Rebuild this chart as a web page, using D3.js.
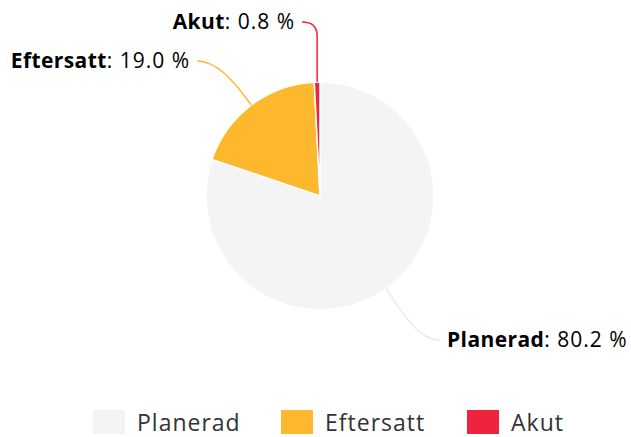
<!DOCTYPE html>
<html>
<head>
<meta charset="utf-8">
<script src="https://cdn.jsdelivr.net/npm/d3@7"></script>
<style>
  body { margin: 0; background: #fff; }
  svg { display: block; font-family: "Open Sans", sans-serif; }
</style>
</head>
<body>
<svg id="chart" width="631" height="437"></svg>
<script>
const categories = ["Planerad", "Eftersatt", "Akut"]
const shares = [80.2, 19.0, 0.8]
const colors = ["#f4f4f4", "#fdb82d", "#ee243d"]
const connector_colors = ["#ebebeb", "#fdb82d", "#ee243d"]

const cx = 320
const cy = 196
const radius = 114

// where each label sits relative to the pie centre (layout only)
const label_layout = [
  {dx: 127, dy: 151, anchor: "start"},
  {dx: -130, dy: -128, anchor: "end"},
  {dx: -25, dy: -167, anchor: "end"}
]

const svg = d3.select("#chart")
const g = svg.append("g").attr("transform", `translate(${cx},${cy})`)

const pie = d3.pie().sort(null).value(d => d)
const arcs = pie(shares)
const arc = d3.arc().innerRadius(0).outerRadius(radius)

g.selectAll("path.slice")
  .data(arcs)
  .enter()
  .append("path")
  .attr("class", "slice")
  .attr("d", arc)
  .attr("fill", (d, i) => colors[i])
  .attr("stroke", "#fff")
  .attr("stroke-width", 1.5)
  .attr("stroke-linejoin", "round")

// connectors + labels
arcs.forEach((d, i) => {
  const a = (d.startAngle + d.endAngle) / 2
  const x0 = radius * Math.sin(a)
  const y0 = -radius * Math.cos(a)
  const lay = label_layout[i]
  const side = lay.anchor == "start" ? 1 : -1
  const tx = lay.dx
  const ty = lay.dy
  const ex = tx - side * 7
  const ey = ty - 7

  const p = d3.path()
  p.moveTo(x0, y0)
  if (i == 2) {
    // thin slice at the top: go straight up then bend
    p.lineTo(x0, ey + 14)
    p.quadraticCurveTo(x0, ey, ex, ey)
  } else if (i == 1) {
    p.bezierCurveTo(x0 - 20, y0 - 28, ex + 18, ey, ex, ey)
  } else {
    p.bezierCurveTo(x0 + 14, y0 + 22, ex - 22, ey, ex, ey)
  }

  g.append("path")
    .attr("d", p.toString())
    .attr("fill", "none")
    .attr("stroke", connector_colors[i])
    .attr("stroke-width", 1.5)

  const t = g.append("text")
    .attr("x", tx)
    .attr("y", ty)
    .attr("text-anchor", lay.anchor)
    .attr("font-size", 21)
    .attr("fill", "#000")
  t.append("tspan").attr("font-weight", "bold").attr("letter-spacing", 0.4).text(categories[i])
  t.append("tspan").attr("letter-spacing", 1).text(": " + shares[i].toFixed(1) + " %")
})

// legend
const legend_x_pos = [93, 281, 467]
const legend = svg.append("g").attr("transform", "translate(0,410)")
categories.forEach((c, i) => {
  const item = legend.append("g").attr("transform", `translate(${legend_x_pos[i]},0)`)
  item.append("rect")
    .attr("width", 32)
    .attr("height", 24)
    .attr("fill", colors[i])
  item.append("text")
    .attr("x", 44)
    .attr("y", 21)
    .attr("font-size", 23)
    .attr("letter-spacing", 1)
    .attr("fill", "#333")
    .text(c)
})
</script>
</body>
</html>
